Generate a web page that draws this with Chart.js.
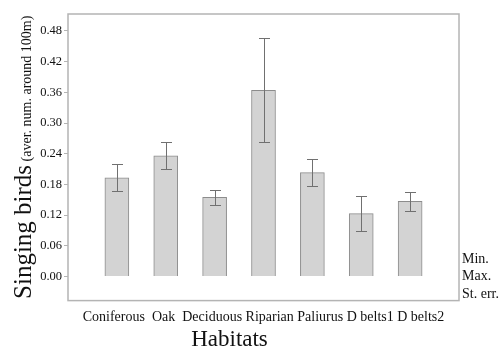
<!DOCTYPE html>
<html>
<head>
<meta charset="utf-8">
<script src="https://cdn.jsdelivr.net/npm/chart.js@4.4.1/dist/chart.umd.min.js"></script>
<style>
html,body{margin:0;padding:0;background:#fff;}
#wrap{width:501px;height:354px;}
</style>
</head>
<body>
<div id="wrap"><canvas id="c" width="501" height="354"></canvas></div>
<script>
const categories = ['Coniferous', 'Oak', 'Deciduous', 'Riparian', 'Paliurus', 'D belts1', 'D belts2'];
const means = [0.193, 0.236, 0.155, 0.364, 0.203, 0.123, 0.147];
const stErr = [0.026, 0.026, 0.015, 0.102, 0.027, 0.034, 0.019];
const yTicks = [0.00, 0.06, 0.12, 0.18, 0.24, 0.30, 0.36, 0.42, 0.48];
const legendLines = ['Min.', 'Max.', 'St. err.'];
const xTitle = 'Habitats';
const yTitleMain = 'Singing birds';
const yTitleSub = ' (aver. num. around 100m)';

const SERIF = '"Liberation Serif", "DejaVu Serif", serif';
const GREY = '#b4b4b4';

const labels = [''].concat(categories, ['']);
const dataVals = [null].concat(means, [null]);

const framePlugin = {
  id: 'frame',
  afterDraw(chart) {
    const {ctx, chartArea: a} = chart;
    ctx.save();
    ctx.strokeStyle = GREY;
    ctx.lineWidth = 1.5;
    ctx.strokeRect(a.left, a.top, a.right - a.left, a.bottom - a.top);
    ctx.restore();
  }
};

const errPlugin = {
  id: 'errbars',
  afterDatasetsDraw(chart) {
    const {ctx} = chart;
    const y = chart.scales.y;
    const meta = chart.getDatasetMeta(0);
    ctx.save();
    ctx.strokeStyle = '#707070';
    ctx.lineWidth = 1;
    means.forEach((m, i) => {
      const el = meta.data[i + 1];
      if (!el) return;
      const x = Math.round(el.x) + 0.5;
      const yh = Math.round(y.getPixelForValue(m + stErr[i])) + 0.5;
      const yl = Math.round(y.getPixelForValue(m - stErr[i])) + 0.5;
      const cw = 5.5;
      ctx.beginPath();
      ctx.moveTo(x, yh); ctx.lineTo(x, yl);
      ctx.moveTo(x - cw, yh); ctx.lineTo(x + cw, yh);
      ctx.moveTo(x - cw, yl); ctx.lineTo(x + cw, yl);
      ctx.stroke();
    });
    ctx.restore();
  }
};

const textPlugin = {
  id: 'texts',
  afterDraw(chart) {
    const {ctx, chartArea: a} = chart;
    ctx.save();
    ctx.fillStyle = '#111';
    ctx.font = '25px ' + SERIF;
    const w1 = ctx.measureText(yTitleMain).width;
    ctx.font = '14px ' + SERIF;
    const w2 = ctx.measureText(yTitleSub).width;
    const total = w1 + w2;
    const cy = (a.top + a.bottom) / 2;
    ctx.translate(31, cy + total / 2);
    ctx.rotate(-Math.PI / 2);
    ctx.textBaseline = 'alphabetic';
    ctx.textAlign = 'left';
    ctx.font = '25px ' + SERIF;
    ctx.fillText(yTitleMain, 0, 0);
    ctx.font = '14px ' + SERIF;
    ctx.fillText(yTitleSub, w1, 0);
    ctx.restore();

    ctx.save();
    ctx.fillStyle = '#111';
    ctx.font = '14px ' + SERIF;
    ctx.textAlign = 'left';
    ctx.textBaseline = 'alphabetic';
    legendLines.forEach((t, i) => {
      ctx.fillText(t, a.right + 3, a.bottom - 3 - (legendLines.length - 1 - i) * 17.5);
    });
    ctx.restore();
  }
};

new Chart(document.getElementById('c'), {
  type: 'bar',
  data: {
    labels: labels,
    datasets: [{
      data: dataVals,
      backgroundColor: '#d3d3d3',
      borderColor: '#8c8c8c',
      borderWidth: 1,
      barThickness: 24
    }]
  },
  options: {
    responsive: false,
    animation: false,
    devicePixelRatio: 1,
    layout: {padding: {top: 14, right: 42, left: 0, bottom: 0}},
    plugins: {
      legend: {display: false},
      tooltip: {enabled: false},
      title: {
        display: true,
        position: 'bottom',
        text: xTitle,
        color: '#111',
        font: {family: SERIF, size: 23, weight: 'normal'},
        padding: {top: 0, bottom: 0}
      }
    },
    scales: {
      x: {
        type: 'category',
        offset: false,
        grid: {display: false},
        border: {display: false},
        ticks: {display: false},
        title: {
          display: true,
          text: categories[0] + '  ' + categories[1] + '  ' + categories.slice(2).join(' '),
          color: '#111',
          font: {family: SERIF, size: 14},
          padding: {top: 0, bottom: 1}
        }
      },
      y: {
        min: -0.047,
        max: 0.513,
        afterBuildTicks(scale) { scale.ticks = yTicks.map(v => ({value: v})); },
        afterFit(scale) { scale.width = 68; },
        grid: {display: true, drawOnChartArea: false, drawTicks: true, tickLength: 4, color: GREY},
        border: {display: false},
        ticks: {
          color: '#111',
          font: {family: SERIF, size: 12.5},
          padding: 2,
          callback: (v) => Number(v).toFixed(2)
        }
      }
    }
  },
  plugins: [framePlugin, errPlugin, textPlugin]
});
</script>
</body>
</html>
